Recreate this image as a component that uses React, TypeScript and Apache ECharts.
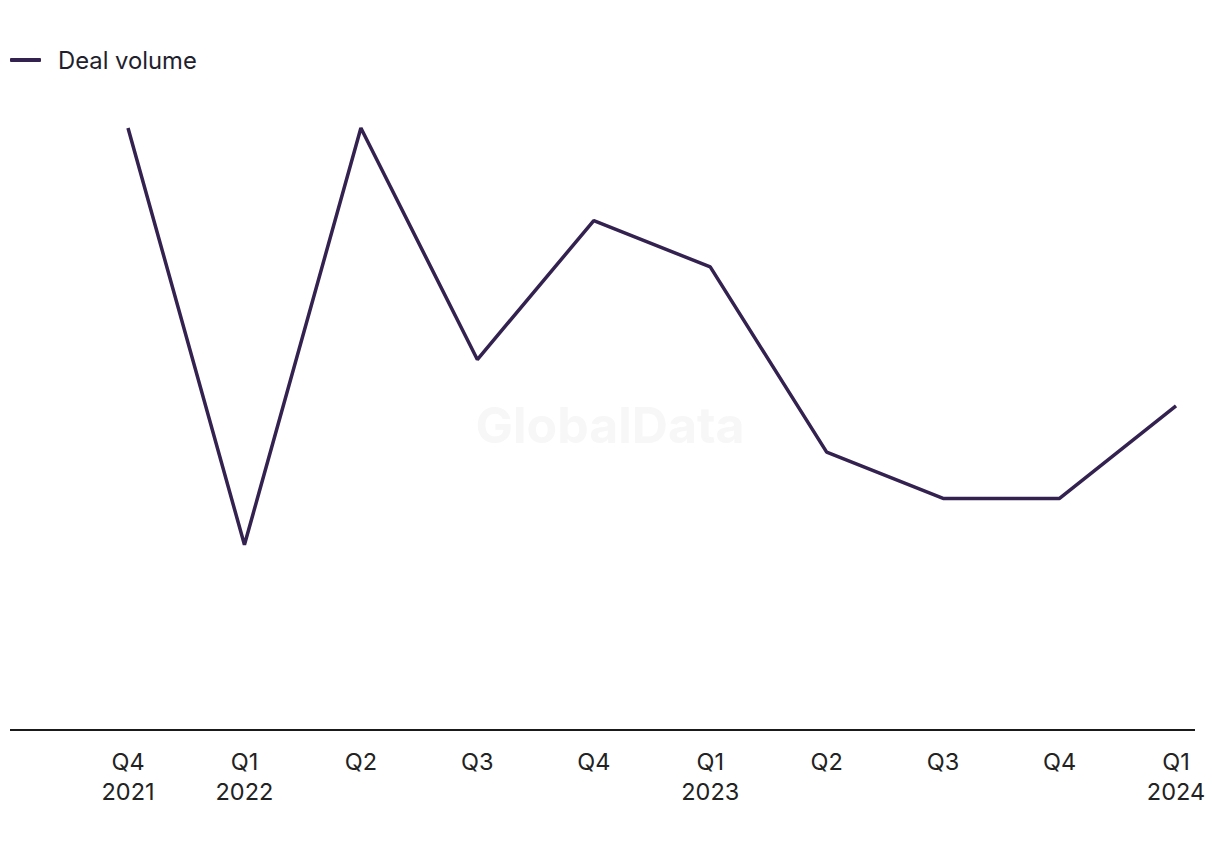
import React, { useEffect, useRef } from "react";
import * as echarts from "echarts";

const categories = ["Q4\n2021", "Q1\n2022", "Q2", "Q3", "Q4", "Q1\n2023", "Q2", "Q3", "Q4", "Q1\n2024"];
const dealVolume = [13, 4, 13, 8, 11, 10, 6, 5, 5, 7];
const seriesName = "Deal volume";
const lineColor = "#33214f";
const font = "Inter, 'Noto Sans', sans-serif";

export default function App() {
  const ref = useRef<HTMLDivElement>(null);
  useEffect(() => {
    if (!ref.current) return;
    const chart = echarts.init(ref.current, undefined, { renderer: "svg" });
    chart.setOption({
      animation: false,
      backgroundColor: "#ffffff",
      legend: {
        left: 10,
        top: 48,
        padding: 0,
        icon: "roundRect",
        itemWidth: 31,
        itemHeight: 4,
        itemGap: 18,
        textStyle: { fontFamily: font, fontSize: 23.8, color: "#1f1f2e", padding: [3, 0, 0, 12] },
        data: [{ name: seriesName, itemStyle: { color: lineColor } }],
      },
      grid: { left: 128, right: 44, top: 128, bottom: 120, containLabel: false },
      xAxis: {
        type: "category",
        data: categories,
        boundaryGap: false,
        axisLine: { show: false },
        axisTick: { show: false },
        axisLabel: {
          margin: 16,
          fontFamily: font,
          fontSize: 23.5,
          lineHeight: 30,
          color: "#222222",
          interval: 0,
        },
      },
      yAxis: {
        type: "value",
        min: 0,
        max: 13,
        show: false,
        splitLine: { show: false },
      },
      graphic: [
        {
          type: "text",
          left: "center",
          top: 400,
          z: 0,
          style: {
            text: "GlobalData",
            fontFamily: font,
            fontWeight: "bold",
            fontSize: 50,
            fill: "#f7f7f7",
          },
        },
        {
          type: "line",
          shape: { x1: 10, y1: 730, x2: 1195, y2: 730 },
          style: { stroke: "#1a1a1a", lineWidth: 2 },
        },
      ],
      series: [
        {
          name: seriesName,
          type: "line",
          data: dealVolume,
          clip: false,
          symbol: "none",
          lineStyle: { color: lineColor, width: 3.5 },
          itemStyle: { color: lineColor },
        },
      ],
    });
    return () => chart.dispose();
  }, []);
  return (
    <div
      ref={ref}
      style={{ position: "fixed", left: 0, top: 0, width: 1220, height: 850 }}
    />
  );
}
